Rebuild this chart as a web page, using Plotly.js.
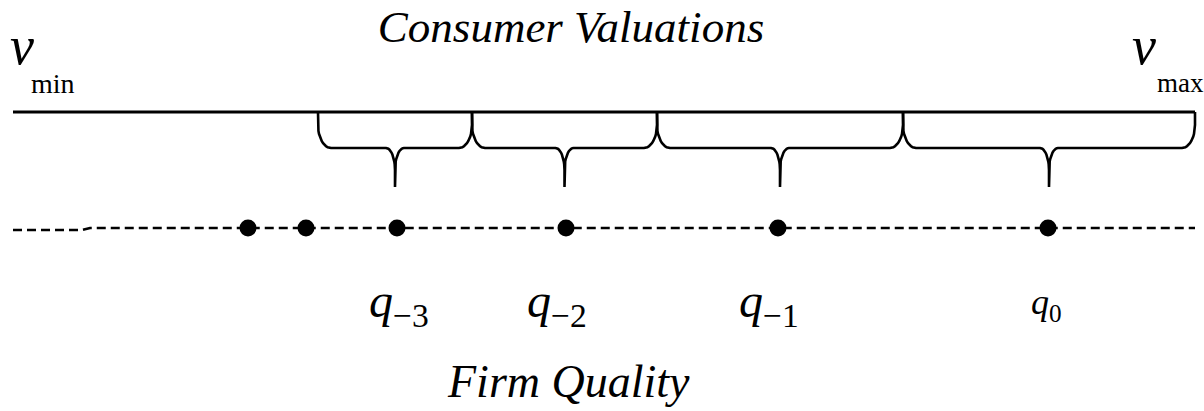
<!DOCTYPE html>
<html>
<head>
<meta charset="utf-8">
<script src="https://cdn.plot.ly/plotly-3.0.1.min.js"></script>
<style>html,body{margin:0;padding:0;background:#fff;}#chart{width:1204px;height:411px;}</style>
</head>
<body>
<div id="chart"></div>
<script>
// Consumer valuation axis (pixel-like units across the diagram)
const valuationRange = [13, 1195];
// Boundaries of the brace segments on the valuation line
const segmentBounds = [318, 472, 657, 903, 1195];
// Firm quality positions (dots on the dashed line)
const firmQualities = [248, 306, 397, 566, 778, 1048];
// Labelled firms (indices into firmQualities) and their labels
const labelledFirms = [2, 3, 4, 5];
const qualityLabels = ['q', 'q', 'q', 'q'];
const qualitySubs = ['−3', '−2', '−1', '0'];
// Dashed firm-quality line with its small kink at the left
const qualityLineX = [13, 82, 90, 1195];
const qualityLineY = [230, 230, 228, 228];
// Vertical levels
const valuationLevel = 112, braceBar = 148, braceTip = 187, firmLevel = 228;

const traces = [];
// valuation line
traces.push({x: valuationRange, y: [valuationLevel, valuationLevel], mode: 'lines',
  line: {color: '#000', width: 3}, hoverinfo: 'skip'});

// braces
function braceTrace(x0, x1) {
  const xm = (x0 + x1) / 2;
  const r = 13, h = 23, rt = 9, ht = 22, n = 12;
  const xs = [], ys = [];
  xs.push(x0); ys.push(valuationLevel);
  for (let i = 0; i <= n; i++) { const t = i / n * Math.PI / 2;
    xs.push(x0 + r - r * Math.cos(t)); ys.push(braceBar - h + h * Math.sin(t)); }
  for (let i = 0; i <= n; i++) { const t = i / n * Math.PI / 2;
    xs.push(xm - rt + rt * Math.sin(t)); ys.push(braceBar + ht - ht * Math.cos(t)); }
  xs.push(xm); ys.push(braceTip);
  xs.push(xm); ys.push(braceBar + ht);
  for (let i = 0; i <= n; i++) { const t = (1 - i / n) * Math.PI / 2;
    xs.push(xm + rt - rt * Math.sin(t)); ys.push(braceBar + ht - ht * Math.cos(t)); }
  for (let i = 0; i <= n; i++) { const t = (1 - i / n) * Math.PI / 2;
    xs.push(x1 - r + r * Math.cos(t)); ys.push(braceBar - h + h * Math.sin(t)); }
  xs.push(x1); ys.push(valuationLevel);
  return {x: xs, y: ys, mode: 'lines', line: {color: '#000', width: 2.6}, hoverinfo: 'skip'};
}
for (let i = 0; i < segmentBounds.length - 1; i++) traces.push(braceTrace(segmentBounds[i], segmentBounds[i + 1]));

// dashed quality line
traces.push({x: qualityLineX, y: qualityLineY, mode: 'lines',
  line: {color: '#000', width: 2.6, dash: '9px,5px'}, hoverinfo: 'skip'});
// firms
traces.push({x: firmQualities, y: firmQualities.map(() => firmLevel), mode: 'markers',
  marker: {color: '#000', size: 17}, hoverinfo: 'skip'});

const serif = 'Liberation Serif, Times New Roman, serif';
const annotations = [];
const labelShift = [2, -9, -9, -2];
const qSize = [48, 48, 48, 36];
labelledFirms.forEach((fi, k) => {
  annotations.push({x: firmQualities[fi], y: 304, xref: 'x', yref: 'y', xshift: labelShift[k],
    text: '<i>' + qualityLabels[k] + '</i><sub>' + qualitySubs[k] + '</sub>',
    showarrow: false, xanchor: 'center', yanchor: 'middle', font: {family: serif, size: qSize[k], color: '#000'}});
});
// v_min, v_max
annotations.push({x: 8, y: 46, xref: 'x', yref: 'y', text: '<i>v</i>', showarrow: false, xanchor: 'left', yanchor: 'middle', font: {family: serif, size: 54, color: '#000'}});
annotations.push({x: 29, y: 83, xref: 'x', yref: 'y', text: 'min', showarrow: false, xanchor: 'left', yanchor: 'middle', font: {family: serif, size: 28, color: '#000'}});
annotations.push({x: 1130, y: 46, xref: 'x', yref: 'y', text: '<i>v</i>', showarrow: false, xanchor: 'left', yanchor: 'middle', font: {family: serif, size: 54, color: '#000'}});
annotations.push({x: 1155, y: 83, xref: 'x', yref: 'y', text: 'max', showarrow: false, xanchor: 'left', yanchor: 'middle', font: {family: serif, size: 27, color: '#000'}});
// bottom caption
annotations.push({x: 568, y: 381, xref: 'x', yref: 'y', text: '<i>Firm Quality</i>', showarrow: false, xanchor: 'center', yanchor: 'middle', font: {family: serif, size: 46, color: '#000'}});

const layout = {
  width: 1204, height: 411,
  margin: {l: 0, r: 0, t: 0, b: 0},
  paper_bgcolor: '#fff', plot_bgcolor: '#fff',
  showlegend: false,
  title: {text: '<i>Consumer Valuations</i>', x: 571 / 1204, xanchor: 'center', xref: 'paper',
    y: 1 - 26 / 411, yref: 'container', yanchor: 'middle', font: {family: serif, size: 45, color: '#000'}},
  xaxis: {range: [0, 1204], visible: false, fixedrange: true},
  yaxis: {range: [411, 0], visible: false, fixedrange: true},
  annotations: annotations
};
Plotly.newPlot('chart', traces, layout, {staticPlot: true, displayModeBar: false});
</script>
</body>
</html>
